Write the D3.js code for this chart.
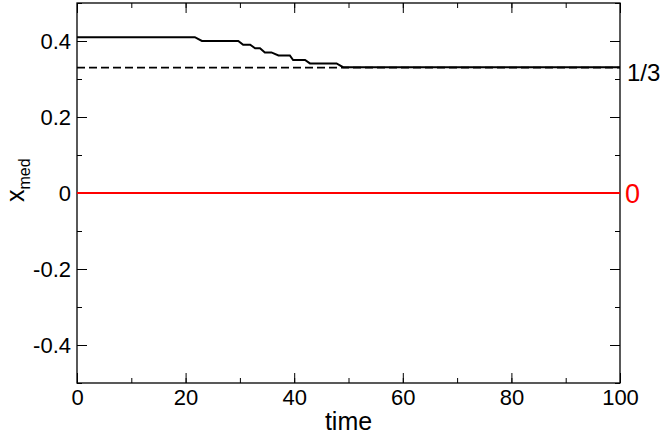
<!DOCTYPE html>
<html>
<head>
<meta charset="utf-8">
<script src="https://cdn.jsdelivr.net/npm/d3@7"></script>
<style>
  body { margin: 0; background: #fff; }
  svg { font-family: "Liberation Sans", Arial, sans-serif; }
</style>
</head>
<body>
<div id="chart"></div>
<script>
// Median position against time (step-like decay towards 1/3)
var times  = [0, 21.7, 23, 29.7, 30.6, 31.9, 32.8, 33.7, 34.6, 35.8, 37.1, 39.2, 39.8, 42, 42.9, 47.8, 49, 100];
var xmed   = [0.41, 0.41, 0.40, 0.40, 0.39, 0.39, 0.381, 0.381, 0.37, 0.37, 0.362, 0.362, 0.35, 0.35, 0.341, 0.341, 0.331, 0.331];

// reference levels
var refLevels = [0.33, 0];
var refLabels = ["1/3", "0"];

var xTicks = [0, 20, 40, 60, 80, 100];
var yTicks = [-0.4, -0.2, 0, 0.2, 0.4];
var yTickLabels = ["-0.4", "-0.2", "0", "0.2", "0.4"];

var W = 664, H = 435;
var margin = { left: 77, right: 44, top: 3, bottom: 52 };

var svg = d3.select("#chart").append("svg")
    .attr("width", W)
    .attr("height", H);

var x = d3.scaleLinear().domain([0, 100]).range([margin.left, W - margin.right]);
var y = d3.scaleLinear().domain([-0.5, 0.5]).range([H - margin.bottom, margin.top]);

// Axes, ticks pointing inward, mirrored on opposite sides
var xMinor = d3.range(0, 101, 10);
var yMinor = d3.range(-5, 6).map(function (d) { return d / 10; });

svg.append("g")
    .attr("transform", "translate(0," + y(-0.5) + ")")
    .call(d3.axisBottom(x).tickValues(xMinor).tickSize(-5).tickFormat(""))
    .call(function (g) { g.select(".domain").remove(); });
svg.append("g")
    .attr("transform", "translate(0," + y(-0.5) + ")")
    .call(d3.axisBottom(x).tickValues(xTicks).tickSize(-10).tickPadding(6).tickFormat(d3.format("d")))
    .call(function (g) {
        g.select(".domain").remove();
        g.selectAll("text").attr("font-size", 22).attr("fill", "#000");
    });
svg.append("g")
    .attr("transform", "translate(0," + y(0.5) + ")")
    .call(d3.axisTop(x).tickValues(xMinor).tickSize(-5).tickFormat(""))
    .call(function (g) { g.select(".domain").remove(); });
svg.append("g")
    .attr("transform", "translate(0," + y(0.5) + ")")
    .call(d3.axisTop(x).tickValues(xTicks).tickSize(-10).tickFormat(""))
    .call(function (g) { g.select(".domain").remove(); });

svg.append("g")
    .attr("transform", "translate(" + x(0) + ",0)")
    .call(d3.axisLeft(y).tickValues(yMinor).tickSize(-5).tickFormat(""))
    .call(function (g) { g.select(".domain").remove(); });
svg.append("g")
    .attr("transform", "translate(" + x(0) + ",0)")
    .call(d3.axisLeft(y).tickValues(yTicks).tickSize(-10).tickPadding(6)
        .tickFormat(function (d, i) { return yTickLabels[i]; }))
    .call(function (g) {
        g.select(".domain").remove();
        g.selectAll("text").attr("font-size", 22).attr("fill", "#000");
    });
svg.append("g")
    .attr("transform", "translate(" + x(100) + ",0)")
    .call(d3.axisRight(y).tickValues(yMinor).tickSize(-5).tickFormat(""))
    .call(function (g) { g.select(".domain").remove(); });
svg.append("g")
    .attr("transform", "translate(" + x(100) + ",0)")
    .call(d3.axisRight(y).tickValues(yTicks).tickSize(-10).tickFormat(""))
    .call(function (g) { g.select(".domain").remove(); });

// frame
svg.append("rect")
    .attr("x", x(0)).attr("y", y(0.5))
    .attr("width", x(100) - x(0)).attr("height", y(-0.5) - y(0.5))
    .attr("fill", "none").attr("stroke", "#000").attr("stroke-width", 1.3);

// reference lines
svg.append("line")
    .attr("x1", x(0)).attr("x2", x(100))
    .attr("y1", y(refLevels[0])).attr("y2", y(refLevels[0]))
    .attr("stroke", "#000").attr("stroke-width", 1.8)
    .attr("stroke-dasharray", "8,4");
svg.append("line")
    .attr("x1", x(0)).attr("x2", x(100))
    .attr("y1", y(refLevels[1])).attr("y2", y(refLevels[1]))
    .attr("stroke", "#ff0000").attr("stroke-width", 1.8);

// the curve
var line = d3.line()
    .x(function (d, i) { return x(times[i]); })
    .y(function (d) { return y(d); });
svg.append("path")
    .datum(xmed)
    .attr("d", line)
    .attr("fill", "none")
    .attr("stroke", "#000")
    .attr("stroke-width", 2);

// labels at right edge
svg.append("text")
    .attr("x", x(100) + 7).attr("y", y(refLevels[0]) + 13)
    .attr("font-size", 24).attr("fill", "#000")
    .text(refLabels[0]);
svg.append("text")
    .attr("x", x(100) + 5).attr("y", y(refLevels[1]) + 10)
    .attr("font-size", 27).attr("fill", "#ff0000")
    .text(refLabels[1]);

// axis titles
svg.append("text")
    .attr("x", (x(0) + x(100)) / 2).attr("y", 430)
    .attr("text-anchor", "middle")
    .attr("font-size", 25)
    .text("time");

var ylab = svg.append("text")
    .attr("transform", "translate(24,202) rotate(-90)")
    .attr("text-anchor", "start")
    .attr("font-size", 25);
ylab.append("tspan").text("x");
ylab.append("tspan").attr("font-size", 16).attr("dy", 6).text("med");
</script>
</body>
</html>
